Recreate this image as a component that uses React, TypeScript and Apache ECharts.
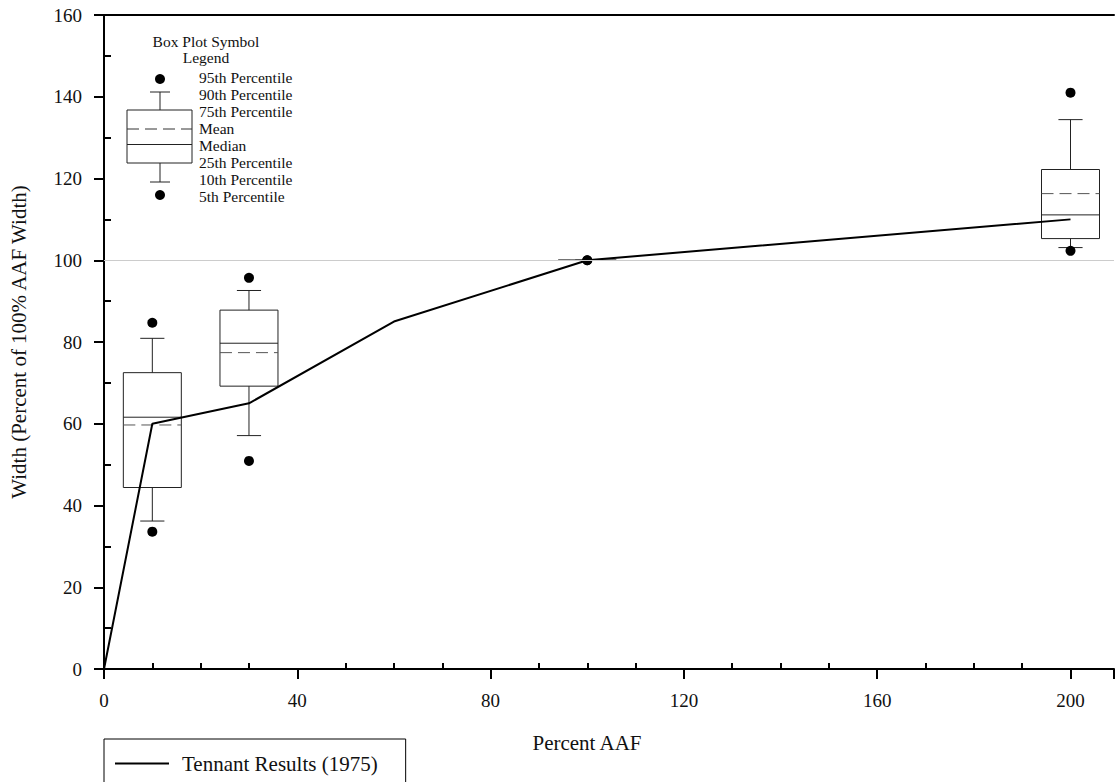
import React, { useEffect, useRef } from "react";
import * as echarts from "echarts";

// ---- data ----
const boxX = [10, 30, 100, 200];
const p5 = [33.6, 50.9, 100, 102.3];
const p10 = [36.2, 57.1, 100, 103.1];
const p25 = [44.4, 69.2, 100, 105.3];
const median = [61.6, 79.7, 100, 111.1];
const mean = [59.7, 77.4, 100, 116.3];
const p75 = [72.5, 87.8, 100, 122.2];
const p90 = [80.9, 92.6, 100, 134.4];
const p95 = [84.7, 95.7, 100, 141.0];

const tennantX = [0, 10, 30, 60, 100, 200];
const tennantY = [0, 60, 65, 85, 100, 110];

const legendTitle = ["Box Plot Symbol", "Legend"];
const legendLabels = [
  "95th Percentile",
  "90th Percentile",
  "75th Percentile",
  "Mean",
  "Median",
  "25th Percentile",
  "10th Percentile",
  "5th Percentile",
];

const FONT = '"Liberation Serif", "DejaVu Serif", serif';
const TXT = "#111";

export default function App() {
  const ref = useRef<HTMLDivElement>(null);

  useEffect(() => {
    const chart = echarts.init(ref.current!, undefined, { renderer: "svg" });

    const boxData = boxX.map((x, i) => [x, p10[i], p25[i], median[i], mean[i], p75[i], p90[i]]);
    const dotData: number[][] = [];
    boxX.forEach((x, i) => {
      dotData.push([x, p5[i]]);
      dotData.push([x, p95[i]]);
    });
    const lineData = tennantX.map((x, i) => [x, tennantY[i]]);

    const boxStroke = "#222";
    const renderItem = (params: any, api: any) => {
      const x = api.value(0);
      const v10 = api.value(1), v25 = api.value(2), vMed = api.value(3), vMean = api.value(4), v75 = api.value(5), v90 = api.value(6);
      const half = api.size([12, 0])[0] / 2;
      const capHalf = api.size([5, 0])[0] / 2;
      const c = (v: number) => api.coord([x, v]);
      const [cx, y25] = c(v25);
      const y75 = c(v75)[1];
      const y10 = c(v10)[1];
      const y90 = c(v90)[1];
      const yMed = c(vMed)[1];
      const yMean = c(vMean)[1];
      const ls = { stroke: boxStroke, lineWidth: 1, fill: "none" };
      return {
        type: "group",
        children: [
          { type: "line", shape: { x1: cx, y1: y75, x2: cx, y2: y90 }, style: ls },
          { type: "line", shape: { x1: cx - capHalf, y1: y90, x2: cx + capHalf, y2: y90 }, style: ls },
          { type: "line", shape: { x1: cx, y1: y25, x2: cx, y2: y10 }, style: ls },
          { type: "line", shape: { x1: cx - capHalf, y1: y10, x2: cx + capHalf, y2: y10 }, style: ls },
          { type: "rect", shape: { x: cx - half, y: y75, width: half * 2, height: y25 - y75 }, style: { stroke: boxStroke, lineWidth: 1, fill: "none" } },
          { type: "line", shape: { x1: cx - half, y1: yMed, x2: cx + half, y2: yMed }, style: ls },
          { type: "line", shape: { x1: cx - half, y1: yMean, x2: cx + half, y2: yMean }, style: { stroke: "#555", lineWidth: 1, lineDash: [12, 6] } },
        ],
      };
    };

    // symbol legend graphic (inside plot, top-left)
    const lgX = 160;
    const LF = `15.5px ${FONT}`;
    const graphic: any[] = [
      { type: "text", x: 206, y: 41, style: { text: legendTitle[0], font: LF, fill: TXT, align: "center", verticalAlign: "middle" } },
      { type: "text", x: 206, y: 57, style: { text: legendTitle[1], font: LF, fill: TXT, align: "center", verticalAlign: "middle" } },
      { type: "circle", shape: { cx: lgX, cy: 79, r: 5 }, style: { fill: "#000" } },
      { type: "line", shape: { x1: lgX - 10, y1: 92, x2: lgX + 10, y2: 92 }, style: { stroke: boxStroke, lineWidth: 1 } },
      { type: "line", shape: { x1: lgX, y1: 92, x2: lgX, y2: 110 }, style: { stroke: boxStroke, lineWidth: 1 } },
      { type: "rect", shape: { x: 127, y: 110, width: 65, height: 53 }, style: { stroke: boxStroke, lineWidth: 1, fill: "none" } },
      { type: "line", shape: { x1: 127, y1: 129, x2: 192, y2: 129 }, style: { stroke: "#333", lineWidth: 1, lineDash: [12, 6] } },
      { type: "line", shape: { x1: 127, y1: 144.5, x2: 192, y2: 144.5 }, style: { stroke: boxStroke, lineWidth: 1 } },
      { type: "line", shape: { x1: lgX, y1: 163, x2: lgX, y2: 182 }, style: { stroke: boxStroke, lineWidth: 1 } },
      { type: "line", shape: { x1: lgX - 10, y1: 182, x2: lgX + 10, y2: 182 }, style: { stroke: boxStroke, lineWidth: 1 } },
      { type: "circle", shape: { cx: lgX, cy: 195, r: 5 }, style: { fill: "#000" } },
    ];
    legendLabels.forEach((t, i) => {
      graphic.push({
        type: "text",
        x: 199,
        y: 77 + i * 17.1,
        style: { text: t, font: LF, fill: TXT, align: "left", verticalAlign: "middle" },
      });
    });

    const option: any = {
      animation: false,
      backgroundColor: "#fff",
      grid: { left: 103, right: 0, top: 15, bottom: 113, containLabel: false },
      legend: {
        data: ["Tennant Results (1975)"],
        left: 104,
        top: 739,
        orient: "horizontal",
        padding: [14, 28, 14, 11],
        icon: "rect",
        itemWidth: 54,
        itemHeight: 2,
        itemGap: 10,
        itemStyle: { color: "#000" },
        borderColor: "#000",
        borderWidth: 1,
        borderRadius: 0,
        textStyle: { fontFamily: FONT, fontSize: 21, color: TXT, padding: [0, 0, 0, 8] },
      },
      xAxis: [
        {
          type: "value",
          min: 0,
          max: 209,
          interval: 40,
          name: "Percent AAF",
          nameLocation: "middle",
          nameGap: 63,
          nameTextStyle: { fontFamily: FONT, fontSize: 21, color: TXT, padding: [0, 44, 0, 0] },
          axisLine: { show: true, onZero: false, lineStyle: { color: "#000", width: 2 } },
          axisTick: { show: true, inside: false, length: 10, lineStyle: { color: "#000", width: 2 } },
          minorTick: { show: true, splitNumber: 4, length: -6, lineStyle: { color: "#000", width: 2 } },
          axisLabel: {
            fontFamily: FONT,
            fontSize: 19,
            color: TXT,
            margin: 22,
            formatter: (v: number) => (v % 40 === 0 ? String(v) : ""),
          },
          splitLine: { show: false },
        },
        {
          type: "value",
          position: "top",
          min: 0,
          max: 209,
          interval: 40,
          axisLine: { show: true, onZero: false, lineStyle: { color: "#000", width: 2 } },
          axisTick: { show: false },
          axisLabel: { show: false },
          splitLine: { show: false },
        },
      ],
      yAxis: {
        type: "value",
        min: 0,
        max: 160,
        interval: 20,
        name: "Width (Percent of 100% AAF Width)",
        nameLocation: "middle",
        nameGap: 75,
        nameTextStyle: { fontFamily: FONT, fontSize: 21, color: TXT },
        axisLine: { show: true, onZero: false, lineStyle: { color: "#000", width: 2 } },
        axisTick: { show: true, inside: false, length: 10, lineStyle: { color: "#000", width: 2 } },
        minorTick: { show: true, splitNumber: 2, length: -7, lineStyle: { color: "#000", width: 2 } },
        axisLabel: { fontFamily: FONT, fontSize: 19, color: TXT, margin: 22 },
        splitLine: { show: false },
      },
      graphic,
      series: [
        {
          type: "custom",
          name: "Box",
          renderItem,
          data: boxData,
          encode: { x: 0, y: [1, 2, 3, 4, 5, 6] },
          z: 2,
          markLine: {
            silent: true,
            symbol: ["none", "none"],
            label: { show: false },
            lineStyle: { color: "#ccc", width: 1, type: "solid" },
            data: [{ yAxis: 100 }],
          },
        },
        {
          type: "line",
          name: "Tennant Results (1975)",
          data: lineData,
          symbol: "none",
          showSymbol: false,
          lineStyle: { color: "#000", width: 2 },
          itemStyle: { color: "#000" },
          z: 3,
        },
        {
          type: "scatter",
          name: "Outliers",
          data: dotData,
          symbol: "circle",
          symbolSize: 10,
          itemStyle: { color: "#000", opacity: 1 },
          z: 4,
        },
      ],
    };

    chart.setOption(option);
    return () => chart.dispose();
  }, []);

  return (
    <div
      ref={ref}
      style={{ position: "absolute", left: 0, top: 0, width: 1117, height: 782 }}
    />
  );
}
